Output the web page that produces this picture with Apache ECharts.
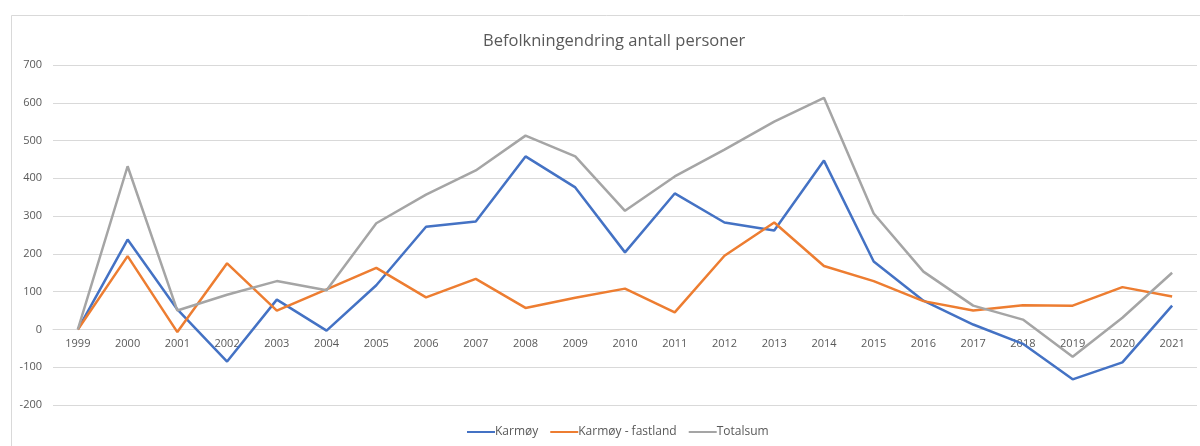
<!DOCTYPE html>
<html>
<head>
<meta charset="utf-8">
<script src="https://cdn.jsdelivr.net/npm/echarts@6/dist/echarts.min.js"></script>
<style>
html,body{margin:0;padding:0;background:#fff;}
#chart{width:1200px;height:446px;}
</style>
</head>
<body>
<div id="chart"></div>
<script>
const titleText = "Befolkningendring antall personer";
const years = ["1999","2000","2001","2002","2003","2004","2005","2006","2007","2008","2009","2010","2011","2012","2013","2014","2015","2016","2017","2018","2019","2020","2021"];
const karmoy = [0, 238, 53, -85, 79, -3, 117, 272, 286, 458, 376, 204, 360, 283, 262, 447, 180, 76, 13, -38, -132, -87, 63];
const fastland = [0, 194, -7, 175, 50, 106, 163, 85, 134, 57, 84, 108, 45, 195, 283, 168, 128, 75, 50, 64, 63, 112, 87];
const totalsum = [0, 432, 50, 92, 128, 104, 281, 357, 421, 513, 458, 314, 405, 476, 550, 613, 307, 153, 63, 26, -72, 31, 150];
const seriesNames = ["Karmøy", "Karmøy - fastland", "Totalsum"];

const yMin = -200, yMax = 700;
const gridTop = 65, gridBottom = 41, H = 446;
const plotH = H - gridTop - gridBottom;
const zeroOffset = -plotH * (0 - yMin) / (yMax - yMin);

const chart = echarts.init(document.getElementById('chart'), null, {renderer:'canvas'});
const font = "'Open Sans', 'Liberation Sans', sans-serif";
const mk = (name, data, color) => ({
  name, type:'line', data, symbol:'none', smooth:false,
  lineStyle:{color, width:2.5}, itemStyle:{color}
});
chart.setOption({
  animation:false,
  backgroundColor:'#fff',
  graphic:[{type:'rect', shape:{x:11.5, y:15.5, width:1300, height:600}, style:{fill:'none', stroke:'#d9d9d9', lineWidth:1}, z:-1}],
  title:{text:titleText, left:478, top:28, textStyle:{fontFamily:font, fontSize:16.5, fontWeight:'normal', color:'#595959'}},
  legend:{bottom:3, left:462, itemWidth:28, itemHeight:2, itemGap:12,
    icon:'rect', textStyle:{fontFamily:font, fontSize:12, color:'#595959', padding:[0,0,0,-5]},
    data:seriesNames},
  grid:{left:53, right:3, top:gridTop, bottom:gridBottom},
  xAxis:{type:'category', data:years, boundaryGap:true, offset:zeroOffset,
    axisLine:{onZero:false, lineStyle:{color:'#d9d9d9', width:1}},
    axisTick:{show:false},
    axisLabel:{fontFamily:font, fontSize:11, color:'#595959', margin:9}},
  yAxis:{type:'value', min:yMin, max:yMax, interval:100,
    axisLine:{show:false}, axisTick:{show:false},
    splitLine:{lineStyle:{color:'#d9d9d9', width:1}},
    axisLabel:{fontFamily:font, fontSize:11, color:'#595959', margin:11}},
  series:[mk(seriesNames[0], karmoy, '#4472C4'), mk(seriesNames[1], fastland, '#ED7D31'), mk(seriesNames[2], totalsum, '#A5A5A5')]
});
</script>
</body>
</html>
